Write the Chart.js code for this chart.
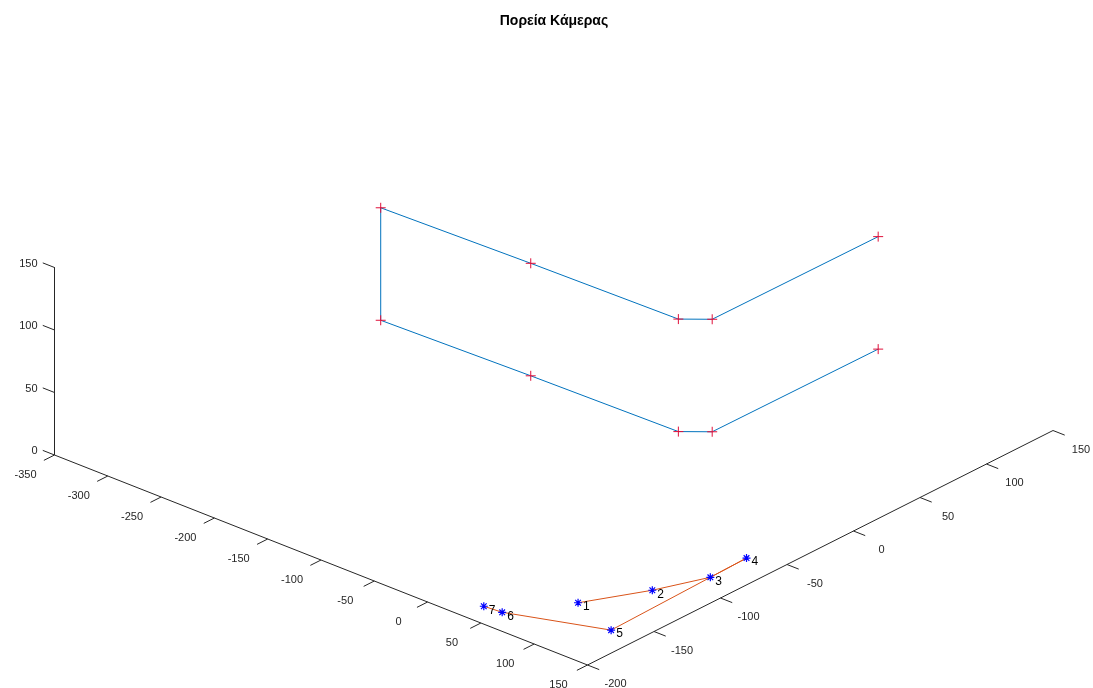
<!DOCTYPE html>
<html>
<head>
<meta charset="utf-8">
<script src="https://cdn.jsdelivr.net/npm/chart.js@4.4.1/dist/chart.umd.min.js"></script>
<style>
  html, body { margin: 0; padding: 0; background: #fff; }
  canvas { display: block; }
</style>
</head>
<body>
<canvas id="plot" width="1093" height="688"></canvas>
<script>
var titleText = 'Πορεία Κάμερας';

// axis ticks (x, y, z)
var xTicks = [-350, -300, -250, -200, -150, -100, -50, 0, 50, 100, 150];
var yTicks = [-200, -150, -100, -50, 0, 50, 100, 150];
var zTicks = [0, 50, 100, 150];

// object outline, bottom edge and top edge
var objX = [-306, -169, -33, -15, -14];
var objY = [10, 13, 15, 26, 150];
var objZBottom = [10, 10, 10, 10, 10];
var objZTop = [100, 100, 100, 100, 100];

// camera path
var camLabels = ['1', '2', '3', '4', '5', '6', '7'];
var camX = [80, 106, 123, 122, 126, 50, 34];
var camY = [-151, -116, -86, -58, -163, -184, -185];
var camZ = [0, 0, 0, 0, 0, 0, 0];

// 3d view -> page plane
function proj(x, y, z) {
    var a = x - xTicks[0], b = y - yTicks[0];
    return { x: 1.066 * a + 1.33 * b, y: -0.42 * a + 0.67 * b + 1.25 * z };
}

var x0 = xTicks[0], x1 = xTicks[xTicks.length - 1];
var y0 = yTicks[0], y1 = yTicks[yTicks.length - 1];
var z1 = zTicks[zTicks.length - 1];

// box edges drawn by matlab
var axisPts = [proj(x0, y0, z1), proj(x0, y0, 0), proj(x1, y0, 0), proj(x1, y1, 0)];

var gap = { x: NaN, y: NaN };
var tickPts = [];
xTicks.forEach(function (t) { tickPts.push(proj(t, y0, 0), proj(t, y0 - 8, 0), gap); });
yTicks.forEach(function (t) { tickPts.push(proj(x1, t, 0), proj(x1 + 11, t, 0), gap); });
zTicks.forEach(function (t) { tickPts.push(proj(x0, y0, t), proj(x0 - 11, y0, t), gap); });

var objPts = [];
for (var i = objX.length - 1; i >= 0; i--) objPts.push(proj(objX[i], objY[i], objZBottom[i]));
for (var i = 0; i < objX.length; i++) objPts.push(proj(objX[i], objY[i], objZTop[i]));

var camPts = camX.map(function (x, i) { return proj(x, camY[i], camZ[i]); });

var labelsPlugin = {
    id: 'labels3d',
    afterDatasetsDraw: function (chart) {
        var ctx = chart.ctx, sx = chart.scales.x, sy = chart.scales.y;
        function px(p) { return [sx.getPixelForValue(p.x), sy.getPixelForValue(p.y)]; }
        ctx.save();
        ctx.fillStyle = '#262626';
        ctx.font = '11px "Liberation Sans", Arial, sans-serif';
        ctx.textBaseline = 'middle';
        ctx.textAlign = 'center';
        xTicks.forEach(function (t) {
            var p = px(proj(t, y0, 0));
            ctx.fillText(String(t), p[0] - 29, p[1] + 20);
        });
        yTicks.forEach(function (t) {
            var p = px(proj(x1, t, 0));
            ctx.fillText(String(t), p[0] + 28, p[1] + 19);
        });
        ctx.textAlign = 'right';
        zTicks.forEach(function (t) {
            var p = px(proj(x0, y0, t));
            ctx.fillText(String(t), p[0] - 17, p[1] - 4);
        });
        // point numbers
        ctx.fillStyle = '#000';
        ctx.font = '12px "Liberation Sans", Arial, sans-serif';
        ctx.textAlign = 'left';
        camPts.forEach(function (q, i) {
            var p = px(q);
            ctx.fillText(camLabels[i], p[0] + 5, p[1] + 4);
        });
        // title
        ctx.font = 'bold 14px "Liberation Sans", Arial, sans-serif';
        ctx.textAlign = 'center';
        ctx.fillText(titleText, 554, 21);
        ctx.restore();
    }
};

new Chart(document.getElementById('plot'), {
    type: 'scatter',
    data: {
        datasets: [
            { data: axisPts, showLine: true, borderColor: '#262626', borderWidth: 1, pointRadius: 0 },
            { data: tickPts, showLine: true, spanGaps: false, borderColor: '#262626', borderWidth: 1, pointRadius: 0 },
            {
                data: objPts, showLine: true, borderColor: '#0072BD', borderWidth: 1,
                pointStyle: 'cross', pointRadius: 5, pointBorderColor: '#E0103A', pointBorderWidth: 1
            },
            {
                data: camPts, showLine: true, borderColor: '#D95319', borderWidth: 1,
                pointStyle: 'star', pointRadius: 4, pointBorderColor: '#0000FF', pointBorderWidth: 1.2
            }
        ]
    },
    options: {
        responsive: false,
        animation: false,
        layout: { padding: 0, autoPadding: false },
        plugins: { legend: { display: false }, tooltip: { enabled: false } },
        scales: {
            x: { type: 'linear', display: false, min: -54.5, max: 1038.5 },
            y: { type: 'linear', display: false, min: -233, max: 455 }
        }
    },
    plugins: [labelsPlugin]
});
</script>
</body>
</html>
